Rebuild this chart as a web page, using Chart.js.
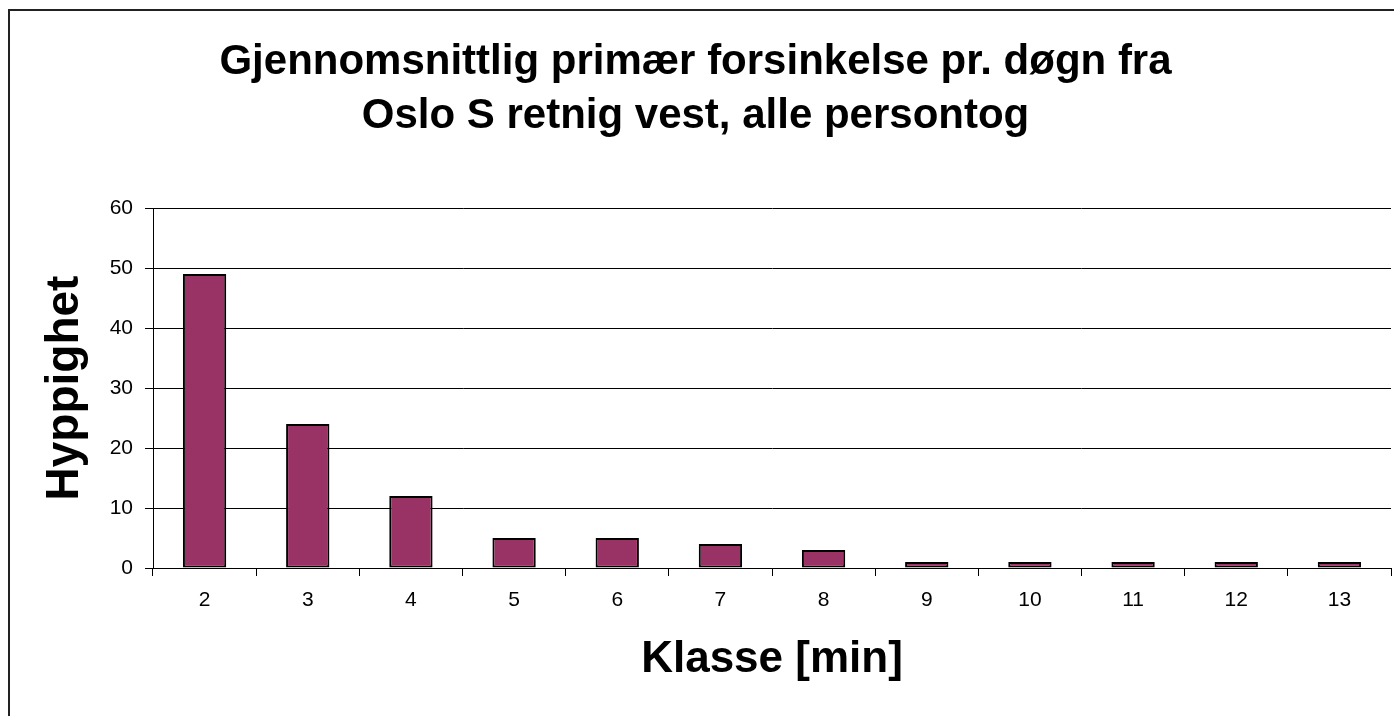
<!DOCTYPE html>
<html lang="no">
<head>
    <meta charset="UTF-8">
    <title>Gjennomsnittlig primær forsinkelse</title>
    <script src="https://cdn.jsdelivr.net/npm/chart.js"></script>
    <style>
        body {
            margin: 0;
            background: #ffffff;
            overflow: hidden;
        }
        .frame {
            position: absolute;
            left: 8px;
            top: 9px;
            width: 1500px;
            height: 800px;
            border-top: 2px solid #222;
            border-left: 2px solid #222;
        }
        #chart {
            position: absolute;
            left: 0;
            top: 0;
        }
    </style>
</head>
<body>
    <div class="frame"></div>
    <canvas id="chart" width="1394" height="716"></canvas>

    <script>
        // data
        const klasser = ['2', '3', '4', '5', '6', '7', '8', '9', '10', '11', '12', '13'];
        const hyppighet = [49, 24, 12, 5, 5, 4, 3, 1, 1, 1, 1, 1];
        const tittel = ['Gjennomsnittlig primær forsinkelse pr. døgn fra', 'Oslo S retnig vest, alle persontog'];

        const fontFamily = "'Liberation Sans', Arial, sans-serif";

        const ctx = document.getElementById('chart').getContext('2d');
        new Chart(ctx, {
            type: 'bar',
            data: {
                labels: klasser,
                datasets: [{
                    label: 'Hyppighet',
                    data: hyppighet,
                    backgroundColor: '#993366',
                    borderColor: '#000000',
                    borderWidth: 2,
                    borderSkipped: false,
                    barPercentage: 0.42,
                    categoryPercentage: 1
                }]
            },
            options: {
                responsive: false,
                animation: false,
                layout: { padding: { left: 0, right: 3, top: 0, bottom: 0 } },
                plugins: {
                    legend: { display: false },
                    tooltip: { enabled: false },
                    title: {
                        display: true,
                        text: tittel,
                        color: '#000',
                        font: { family: fontFamily, size: 42, weight: 'bold', lineHeight: '54px' },
                        padding: { top: 35, bottom: 65 }
                    }
                },
                scales: {
                    x: {
                        afterFit: function(scale) { scale.height = 148; },
                        grid: {
                            drawOnChartArea: false,
                            drawTicks: true,
                            tickLength: 8,
                            color: '#000'
                        },
                        border: { color: '#000', width: 1 },
                        ticks: {
                            color: '#000',
                            padding: 12,
                            font: { family: fontFamily, size: 21 }
                        },
                        title: {
                            display: true,
                            text: 'Klasse [min]',
                            color: '#000',
                            font: { family: fontFamily, size: 44, weight: 'bold' },
                            padding: { top: 0, bottom: 30 }
                        }
                    },
                    y: {
                        min: 0,
                        max: 60,
                        afterFit: function(scale) { scale.width = 153; },
                        grid: {
                            color: '#000',
                            tickLength: 8
                        },
                        border: { color: '#000', width: 1 },
                        ticks: {
                            stepSize: 10,
                            color: '#000',
                            padding: 12,
                            font: { family: fontFamily, size: 21 }
                        },
                        title: {
                            display: true,
                            text: 'Hyppighet',
                            color: '#000',
                            font: { family: fontFamily, size: 46, weight: 'bold' },
                            padding: { top: 38, bottom: 0 }
                        }
                    }
                }
            }
        });
    </script>
</body>
</html>
